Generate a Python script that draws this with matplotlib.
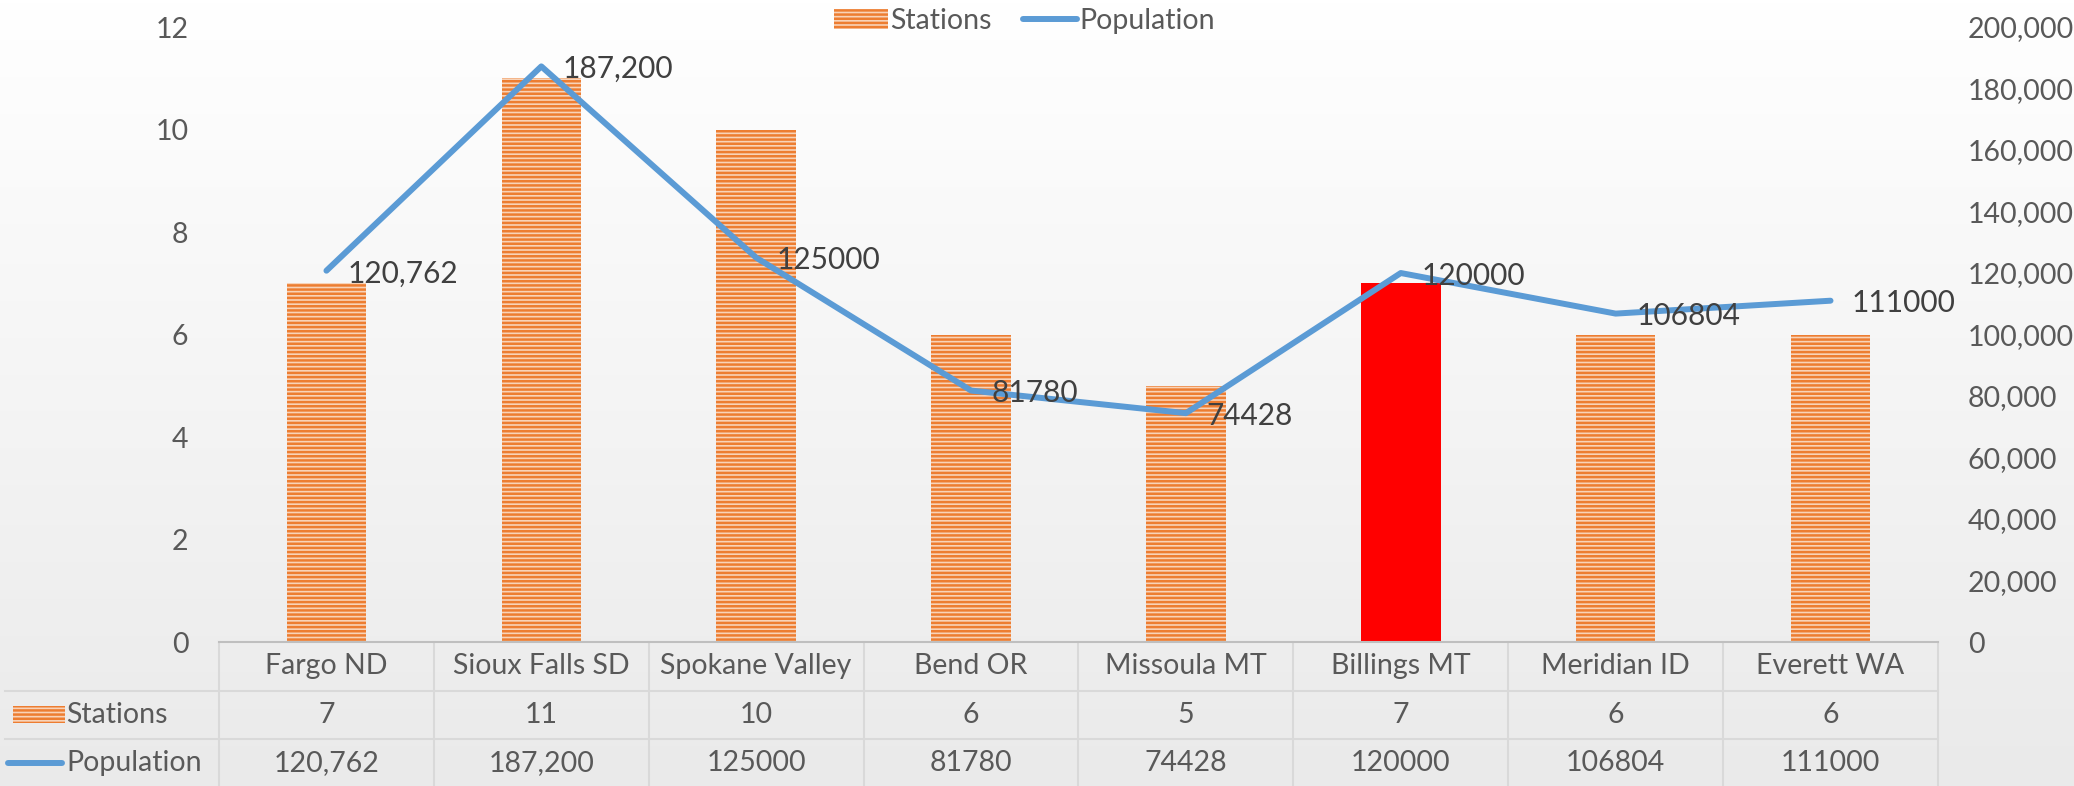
import numpy as np
import matplotlib
matplotlib.use("Agg")
import matplotlib.pyplot as plt
from matplotlib.colors import LinearSegmentedColormap
from matplotlib.patches import Rectangle
from matplotlib.lines import Line2D
from matplotlib.transforms import blended_transform_factory
from matplotlib.ticker import FuncFormatter

plt.rcParams['font.family'] = ['Lato', 'DejaVu Sans']
plt.rcParams['hatch.linewidth'] = 1.8

# данные
cities = ['Fargo ND', 'Sioux Falls SD', 'Spokane Valley', 'Bend OR',
          'Missoula MT', 'Billings MT', 'Meridian ID', 'Everett WA']
stations = [7, 11, 10, 6, 5, 7, 6, 6]
population = [120762, 187200, 125000, 81780, 74428, 120000, 106804, 111000]
pop_labels = ['120,762', '187,200', '125000', '81780', '74428', '120000', '106804', '111000']
highlight = 'Billings MT'

ORANGE = '#ED7D31'
PEACH = '#F8D3B8'
BLUE = '#5B9BD5'
TXT = '#595959'
GRID = '#D9D9D9'
FS = 20.5

fig = plt.figure(figsize=(20.74, 7.86), dpi=100)

# фон с градиентом
bg = fig.add_axes([0, 0, 1, 1], zorder=-10)
grad = np.linspace(0, 1, 256).reshape(-1, 1)
bg.imshow(grad, aspect='auto', extent=[0, 1, 0, 1],
          cmap=LinearSegmentedColormap.from_list('bg', ['#FFFFFF', '#EAEAEA']))
bg.axis('off')

ax_left, ax_w = 0.1056, 0.8288
ax = fig.add_axes([ax_left, 0.1832, ax_w, 0.7824])
ax.patch.set_alpha(0)

x = np.arange(len(cities))
bars = ax.bar(x, stations, width=0.37, color=PEACH, edgecolor=ORANGE,
              linewidth=0, hatch='----', label='Stations', zorder=2)
hi = cities.index(highlight)
bars[hi].set_hatch('')
bars[hi].set_facecolor('#FF0000')
bars[hi].set_edgecolor('#FF0000')

ax.set_xlim(-0.5, len(cities) - 0.5)
ax.set_ylim(0, 12)
ax.set_yticks(range(0, 13, 2))
ax.set_xticks([])
ax.tick_params(axis='y', length=0, pad=22, labelsize=FS, labelcolor=TXT)
for s in ['top', 'left', 'right']:
    ax.spines[s].set_visible(False)
ax.spines['bottom'].set_color('#BFBFBF')
ax.spines['bottom'].set_linewidth(1.5)

ax2 = ax.twinx()
line, = ax2.plot(x, population, color=BLUE, lw=4.3, solid_capstyle='round',
                 solid_joinstyle='round', label='Population', zorder=3)
ax2.set_ylim(0, 200000)
ax2.set_yticks(range(0, 200001, 20000))
ax2.yaxis.set_major_formatter(FuncFormatter(lambda v, p: f'{v:,.0f}'))
ax2.tick_params(axis='y', length=0, pad=21.5, labelsize=FS, labelcolor=TXT)
for s in ax2.spines.values():
    s.set_visible(False)

for i, (v, lbl) in enumerate(zip(population, pop_labels)):
    ax2.annotate(lbl, (i, v), xytext=(15, -2), textcoords='offset points',
                 ha='left', va='center', fontsize=21.5, color='#404040', zorder=4)

# таблица данных под графиком
row_h = 0.0789
xt = ax.get_xaxis_transform()
bt = blended_transform_factory(fig.transFigure, ax.transAxes)
fig_right = ax_left + ax_w

for k in (1, 2):
    ax.add_artist(Line2D([5 / 2074, fig_right], [-k * row_h, -k * row_h],
                         transform=bt, color=GRID, lw=1.5, clip_on=False))
for b in np.arange(len(cities) + 1) - 0.5:
    ax.add_artist(Line2D([b, b], [0, -3 * row_h], transform=xt,
                         color=GRID, lw=1.5, clip_on=False))

rows = [cities, [str(s) for s in stations], pop_labels]
for r, vals in enumerate(rows):
    yc = -(r + 0.5) * row_h
    for i, t in enumerate(vals):
        ax.text(i, yc, t, transform=xt, ha='center', va='center',
                fontsize=FS, color=TXT, clip_on=False)

y_st = -1.5 * row_h
y_pop = -2.5 * row_h
kh = 17 / 615
ax.add_artist(Rectangle((13 / 2074, y_st - kh / 2), 52 / 2074, kh, transform=bt,
                        facecolor=PEACH, edgecolor=ORANGE, linewidth=0,
                        hatch='----', clip_on=False))
ax.add_artist(Line2D([8 / 2074, 62 / 2074], [y_pop, y_pop], transform=bt,
                     color=BLUE, lw=4.3, solid_capstyle='round', clip_on=False))
ax.text(66 / 2074, y_st, 'Stations', transform=bt, ha='left', va='center',
        fontsize=FS, color=TXT)
ax.text(66 / 2074, y_pop, 'Population', transform=bt, ha='left', va='center',
        fontsize=FS, color=TXT)

fig.legend([bars, line], ['Stations', 'Population'], loc='center',
           bbox_to_anchor=(0.494, 0.973), ncol=2, frameon=False,
           fontsize=FS, labelcolor=TXT, handlelength=1.9,
           handletextpad=0.08, columnspacing=1.1)

fig.savefig('out.png', dpi=100)
